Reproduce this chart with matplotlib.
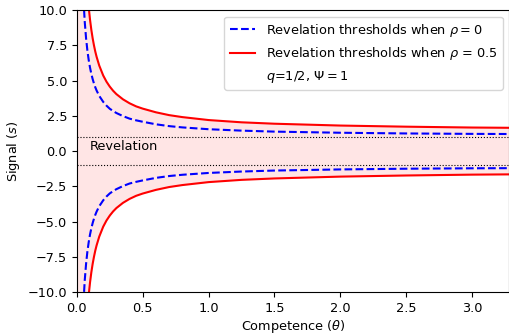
import numpy as np
import matplotlib
matplotlib.use("Agg")
import matplotlib.pyplot as plt

plt.rcParams['font.size'] = 9.3

# Competence values (theta) and read-off upper thresholds (lower = negative)
theta = [0.04, 0.05, 0.06, 0.07, 0.08, 0.09, 0.10, 0.11, 0.12, 0.13, 0.14, 0.15, 0.17,
         0.20, 0.225, 0.25, 0.275, 0.30, 0.35, 0.40, 0.45, 0.50, 0.60, 0.70, 0.80,
         1.00, 1.25, 1.50, 2.00, 2.50, 3.00, 3.30]
blue_upper = [13.2, 10.76, 9.14, 7.99, 7.12, 6.45, 5.91, 5.47, 5.10, 4.79, 4.52, 4.29, 3.91,
              3.49, 3.22, 3.00, 2.84, 2.70, 2.48, 2.30, 2.18, 2.08, 1.90, 1.77, 1.68,
              1.55, 1.45, 1.38, 1.30, 1.25, 1.22, 1.21]
red_upper = [21.2, 17.21, 14.58, 12.70, 11.29, 10.19, 9.31, 8.59, 7.99, 7.49, 7.05, 6.68, 6.06,
             5.36, 4.92, 4.57, 4.28, 4.04, 3.67, 3.39, 3.17, 3.01, 2.75, 2.55, 2.41,
             2.20, 2.04, 1.94, 1.81, 1.73, 1.67, 1.65]
revelation_level = 1.0

x_limits = (0.0, 3.28)
y_limits = (-10.0, 10.0)

th = np.array(theta)
bu = np.array(blue_upper)
ru = np.array(red_upper)

fig = plt.figure(figsize=(5.09, 3.35), dpi=100)
ax = fig.add_axes([0.151, 0.128, 0.849, 0.842])

xf = np.r_[x_limits[0], th]
rf = np.r_[y_limits[1], ru]
ax.fill_between(xf, 0, rf, color='red', alpha=0.1, lw=0)
ax.fill_between(xf, -rf, 0, color='red', alpha=0.1, lw=0)

ax.plot(th, bu, 'b--', lw=1.5, label=r'Revelation thresholds when $\rho = 0$')
ax.plot(th, -bu, 'b--', lw=1.5)
ax.plot(th, ru, 'r-', lw=1.5, label=r'Revelation thresholds when $\rho$ = 0.5')
ax.plot(th, -ru, 'r-', lw=1.5)
ax.plot([], [], ' ', label=r'$q$=1/2, $\Psi = 1$')

ax.axhline(revelation_level, color='k', ls=':', lw=0.8)
ax.axhline(-revelation_level, color='k', ls=':', lw=0.8)
ax.text(0.1, 0.3, 'Revelation', va='center', ha='left')

ax.set_xlim(*x_limits)
ax.set_ylim(*y_limits)
ax.set_xticks([0.0, 0.5, 1.0, 1.5, 2.0, 2.5, 3.0])
ax.set_yticks([-10.0, -7.5, -5.0, -2.5, 0.0, 2.5, 5.0, 7.5, 10.0])
ax.set_xlabel(r'Competence ($\theta$)', labelpad=2)
ax.set_ylabel(r'Signal ($s$)')
ax.legend(loc='upper right')

fig.savefig('out.png', dpi=100)
